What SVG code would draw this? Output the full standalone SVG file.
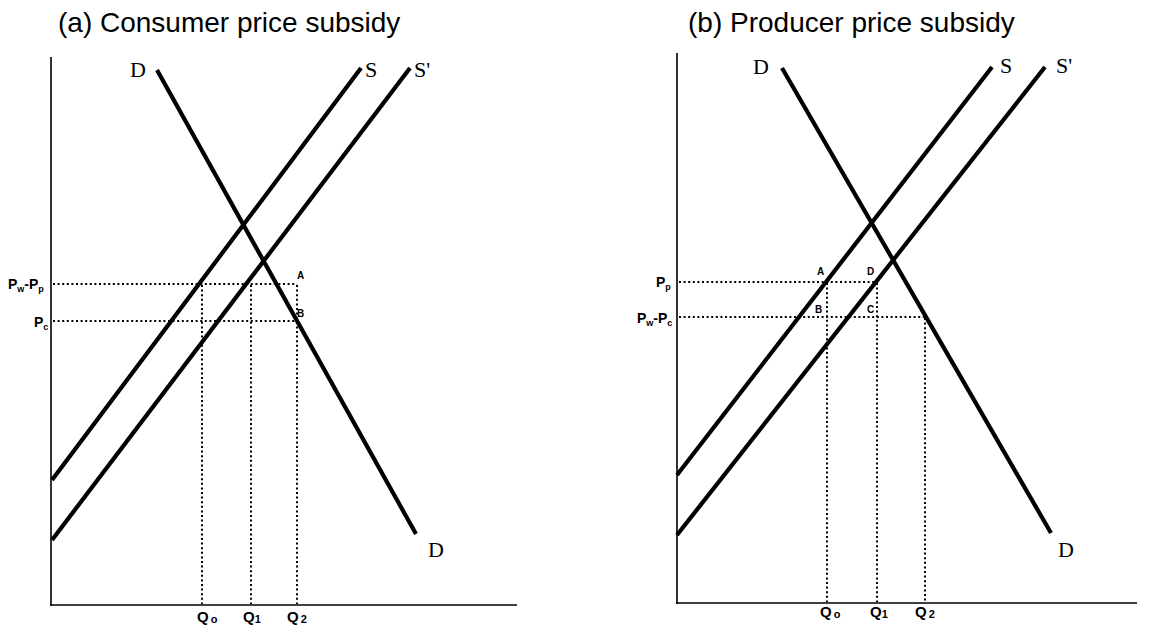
<svg xmlns="http://www.w3.org/2000/svg" width="1154" height="631" viewBox="0 0 1154 631">
<style>
.axis{stroke:#000;stroke-width:1.6;fill:none}
.curve{stroke:#000;stroke-width:4.2;fill:none;stroke-linecap:butt}
.dot{stroke:#000;stroke-width:2;fill:none;stroke-dasharray:2 2.6}
.title{font-family:"Liberation Sans",Arial,sans-serif;font-size:28px;fill:#000}
.cl{font-family:"Liberation Serif","Times New Roman",serif;font-size:22px;fill:#000}
.lab{font-family:"Liberation Sans",Arial,sans-serif;font-size:14px;font-weight:bold;fill:#000}
.q{font-family:"Liberation Sans",Arial,sans-serif;font-size:15px;font-weight:bold;fill:#000}
.sub{font-size:9px}
.qs{font-size:11px}
.pt{font-family:"Liberation Sans",Arial,sans-serif;font-size:10px;font-weight:bold;fill:#000}
</style>
<rect width="1154" height="631" fill="#fff"/>
<g id="panel-a">
<text class="title" x="58" y="32">(a) Consumer price subsidy</text>
<g id="axes-a"><line class="axis" x1="51" y1="57" x2="51" y2="606"/><line class="axis" x1="50" y1="605" x2="517" y2="605"/></g>
<g id="connectors-a">
<line class="dot" x1="53" y1="284" x2="297" y2="284"/>
<line class="dot" x1="53" y1="321" x2="297" y2="321"/>
<line class="dot" x1="202" y1="285" x2="202" y2="604"/>
<line class="dot" x1="251" y1="285" x2="251" y2="604"/>
<line class="dot" x1="297" y1="285" x2="297" y2="604"/>
</g>
<g id="curve-S-a"><line class="curve" x1="52" y1="480" x2="361" y2="68"/><text class="cl" x="365" y="77">S</text></g>
<g id="curve-S2-a"><line class="curve" x1="52" y1="540" x2="410" y2="68"/><text class="cl" x="414" y="77">S'</text></g>
<g id="curve-D-a"><line class="curve" x1="157" y1="70" x2="416" y2="534"/><text class="cl" x="130" y="77">D</text><text class="cl" x="428" y="557">D</text></g>
<g id="labels-a">
<text class="lab" x="8" y="289">P<tspan class="sub" dy="3">w</tspan><tspan dy="-3">-P</tspan><tspan class="sub" dy="3">p</tspan></text>
<text class="lab" x="34" y="327">P<tspan class="sub" dy="3">c</tspan></text>
<text class="pt" x="297" y="279">A</text>
<text class="pt" x="297" y="317">B</text>
<text class="q" x="197" y="622">Q<tspan class="qs" dx="2" dy="1">o</tspan></text>
<text class="q" x="243" y="622">Q<tspan class="qs" dy="1">1</tspan></text>
<text class="q" x="287" y="622">Q<tspan class="qs" dx="2" dy="1">2</tspan></text>
</g>
</g>
<g id="panel-b">
<text class="title" x="688" y="32">(b) Producer price subsidy</text>
<g id="axes-b"><line class="axis" x1="677" y1="53" x2="677" y2="604"/><line class="axis" x1="676" y1="603" x2="1137" y2="603"/></g>
<g id="connectors-b">
<line class="dot" x1="679" y1="282" x2="877" y2="282"/>
<line class="dot" x1="679" y1="317" x2="925" y2="317"/>
<line class="dot" x1="827" y1="283" x2="827" y2="602"/>
<line class="dot" x1="877" y1="283" x2="877" y2="602"/>
<line class="dot" x1="925" y1="318" x2="925" y2="602"/>
</g>
<g id="curve-S-b"><line class="curve" x1="677" y1="475" x2="992" y2="67"/><text class="cl" x="1000" y="73">S</text></g>
<g id="curve-S2-b"><line class="curve" x1="677" y1="535" x2="1045" y2="67"/><text class="cl" x="1056" y="73">S'</text></g>
<g id="curve-D-b"><line class="curve" x1="782" y1="68" x2="1051" y2="533"/><text class="cl" x="753" y="74">D</text><text class="cl" x="1058" y="557">D</text></g>
<g id="labels-b">
<text class="lab" x="656" y="287">P<tspan class="sub" dy="3">p</tspan></text>
<text class="lab" x="637" y="323">P<tspan class="sub" dy="3">w</tspan><tspan dy="-3">-P</tspan><tspan class="sub" dy="3">c</tspan></text>
<text class="pt" x="817" y="275">A</text>
<text class="pt" x="867" y="275">D</text>
<text class="pt" x="815" y="313">B</text>
<text class="pt" x="867" y="313">C</text>
<text class="q" x="820" y="617">Q<tspan class="qs" dx="2" dy="1">o</tspan></text>
<text class="q" x="870" y="617">Q<tspan class="qs" dy="1">1</tspan></text>
<text class="q" x="915" y="617">Q<tspan class="qs" dx="2" dy="1">2</tspan></text>
</g>
</g>
</svg>
